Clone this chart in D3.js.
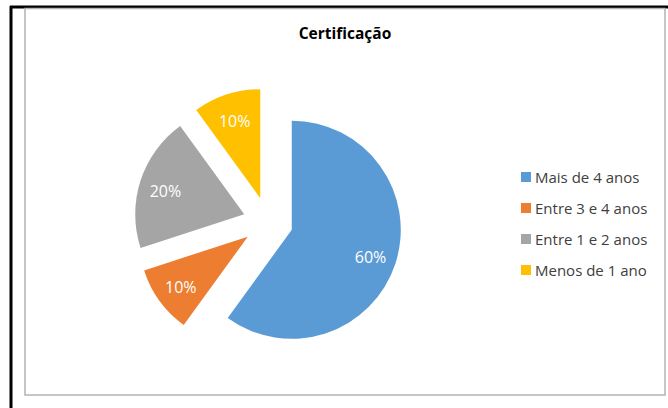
<!DOCTYPE html>
<html><head><meta charset="utf-8">
<script src="https://cdn.jsdelivr.net/npm/d3@7"></script>
<style>body{margin:0;background:#fff}</style>
</head><body>
<svg id="c" width="668" height="408"></svg>
<script>
const title = "Certificação";
const categories = ["Mais de 4 anos", "Entre 3 e 4 anos", "Entre 1 e 2 anos", "Menos de 1 ano"];
const values = [60, 10, 20, 10];
const colors = ["#5B9BD5", "#ED7D31", "#A5A5A5", "#FFC000"];

const svg = d3.select("#c");
const font = "Open Sans, Lato, sans-serif";

// outer frame (black lines left/top)
svg.append("line").attr("x1", 11).attr("y1", 6).attr("x2", 11).attr("y2", 408).attr("stroke", "#000").attr("stroke-width", 3);
svg.append("line").attr("x1", 10).attr("y1", 7).attr("x2", 668).attr("y2", 7).attr("stroke", "#000").attr("stroke-width", 3);
// chart area border
svg.append("rect").attr("x", 25).attr("y", 8.5).attr("width", 640).attr("height", 386.5)
  .attr("fill", "#fff").attr("stroke", "#b3b3b3").attr("stroke-width", 1.5);

svg.append("text").attr("x", 345).attr("y", 39).attr("text-anchor", "middle")
  .attr("font-family", font).attr("font-weight", "bold").attr("font-size", 15.5)
  .attr("fill", "#000").text(title);

const cx = 268, cy = 222, r = 109, explode = 25;
const pie = d3.pie().sort(null).value(d => d);
const arcs = pie(values);
const arc = d3.arc().innerRadius(0).outerRadius(r);
const total = d3.sum(values);

const g = svg.append("g").attr("transform", `translate(${cx},${cy})`);
arcs.forEach((a, i) => {
  const m = (a.startAngle + a.endAngle) / 2;
  const dx = Math.sin(m) * explode, dy = -Math.cos(m) * explode;
  const sg = g.append("g").attr("transform", `translate(${dx},${dy})`);
  sg.append("path").attr("d", arc(a)).attr("fill", colors[i]);
  const lr = r * 0.76;
  sg.append("text").attr("x", Math.sin(m) * lr).attr("y", -Math.cos(m) * lr + 2)
    .attr("text-anchor", "middle").attr("dominant-baseline", "central")
    .attr("font-family", font).attr("font-size", 16).attr("fill", "#fff")
    .text(Math.round(values[i] / total * 100) + "%");
});

const leg = svg.append("g");
categories.forEach((c, i) => {
  const y = 183 + i * 31;
  leg.append("rect").attr("x", 521).attr("y", y - 11).attr("width", 10).attr("height", 10).attr("fill", colors[i]);
  leg.append("text").attr("x", 535).attr("y", y).attr("font-family", font).attr("font-size", 15)
    .attr("fill", "#404040").text(c);
});
</script>
</body></html>
